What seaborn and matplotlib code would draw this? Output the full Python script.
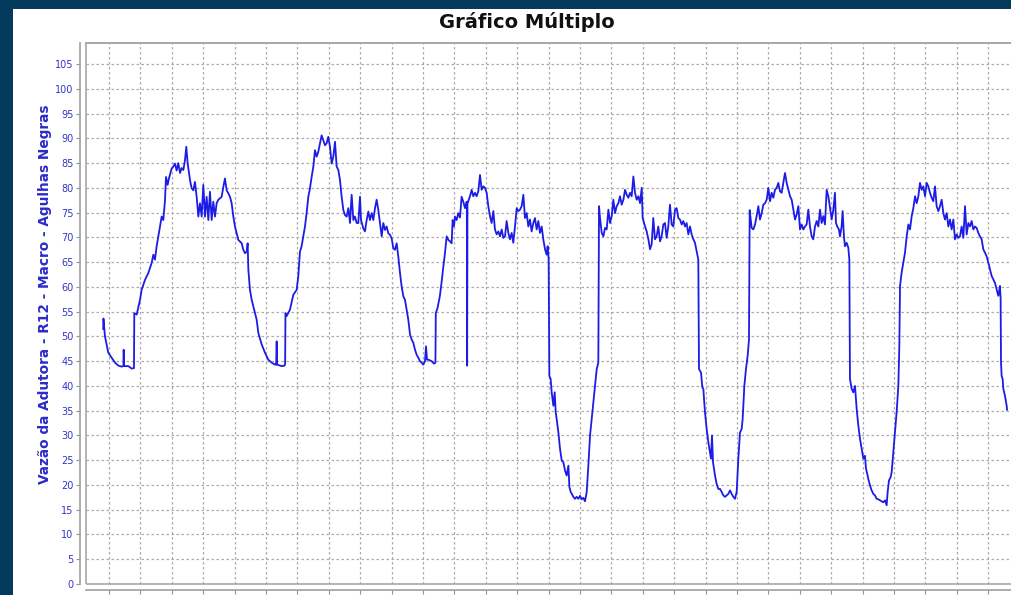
import numpy as np
import pandas as pd
import matplotlib
matplotlib.use("Agg")
import matplotlib.pyplot as plt
from matplotlib.patches import Rectangle
import seaborn as sns

# ---------------- data (hours since start, flow) ----------------
hours_1 = [-0.92, -0.88, -0.64, -0.11, 0.42, 0.96, 1.49, 2.02, 2.30, 2.34,
           2.40, 3.08, 3.61, 3.98, 4.03, 4.41, 4.94, 5.20, 5.73, 6.26,
           6.79, 7.06, 7.32, 7.59, 7.86, 8.12, 8.39, 8.65, 8.92, 9.08,
           9.34, 9.55, 9.98, 10.24, 10.51, 10.77, 11.04, 11.31, 11.57, 11.84,
           12.10, 12.31, 12.53, 12.90, 13.16, 13.43, 13.69, 13.96, 14.23, 14.49,
           14.76, 15.02, 15.29, 15.55, 15.82, 16.08, 16.35, 16.61, 16.88, 17.14,
           17.41, 17.68, 17.94, 18.21, 18.47, 18.74, 19.00, 19.27, 19.53, 19.80,
           20.06, 20.33, 20.59, 21.13, 21.39, 21.66, 21.92, 22.08, 22.19, 22.45,
           22.72, 23.25, 23.51, 23.78, 24.31, 24.84, 25.37, 25.90, 26.43, 26.62,
           26.70, 26.78, 27.49, 27.95]
flow_1 = [51.5, 53.6, 50.0, 46.7, 45.7, 44.7, 44.1, 43.9, 44.0, 47.3,
          44.0, 44.0, 43.5, 43.6, 54.7, 54.4, 57.4, 59.4, 61.4, 62.8,
          64.8, 66.5, 65.5, 68.2, 70.2, 72.2, 74.2, 73.5, 77.5, 82.2,
          80.6, 81.9, 83.9, 84.3, 84.9, 83.5, 85.0, 83.0, 84.0, 83.6,
          85.6, 88.3, 84.9, 81.6, 79.9, 79.5, 81.2, 78.2, 74.2, 76.9,
          74.2, 80.6, 74.2, 78.2, 73.5, 79.2, 73.5, 77.2, 74.2, 76.9,
          77.6, 77.9, 78.2, 80.2, 81.9, 79.5, 78.9, 78.2, 76.9, 74.2,
          72.2, 70.8, 69.5, 68.8, 67.5, 66.8, 67.1, 68.8, 63.5, 59.4,
          57.4, 54.7, 53.4, 50.7, 48.4, 46.7, 45.3, 44.7, 44.3, 44.3,
          49.0, 44.3, 44.0, 44.1]

hours_2 = [28.05, 28.10, 28.29, 28.82, 29.35, 29.88, 30.14, 30.41, 30.67, 30.94,
           31.21, 31.47, 31.74, 32.00, 32.27, 32.54, 32.80, 33.07, 33.33, 33.60,
           33.86, 34.13, 34.39, 34.66, 34.92, 35.19, 35.46, 35.72, 35.99, 36.25,
           36.52, 36.78, 37.05, 37.32, 37.58, 37.85, 38.11, 38.38, 38.64, 38.91,
           39.17, 39.44, 39.70, 39.97, 40.13, 40.50, 40.76, 41.03, 41.30, 41.56,
           41.83, 42.09, 42.36, 42.62, 42.89, 43.15, 43.42, 43.68, 43.95, 44.21,
           44.48, 44.75, 45.01, 45.28, 45.54, 45.81, 46.07, 46.34, 46.60, 46.87,
           47.13, 47.40, 47.66, 47.93, 48.19, 48.46, 48.73, 48.99, 49.26, 49.52,
           49.79, 50.05, 50.32, 50.48, 50.64, 50.85, 51.38, 51.75, 51.98, 52.04,
           52.31, 52.68, 52.95, 53.24, 53.50, 53.77, 54.03, 54.30, 54.56, 54.72,
           54.93, 55.09, 55.36, 55.62, 55.89, 56.15, 56.42, 56.69, 56.95, 56.98,
           57.03, 57.08]
flow_2 = [44.5, 54.7, 54.1, 55.4, 58.4, 59.4, 62.1, 67.1, 68.2, 70.2,
          72.2, 74.9, 78.2, 79.9, 82.2, 84.3, 87.6, 86.3, 87.3, 89.0,
          90.6, 89.6, 88.6, 89.0, 90.3, 88.3, 84.9, 86.3, 89.3, 84.3,
          83.6, 81.6, 78.2, 75.5, 74.5, 74.2, 75.9, 72.9, 78.6, 73.5,
          74.2, 72.9, 72.9, 78.2, 73.5, 71.8, 71.2, 73.5, 75.2, 73.5,
          74.9, 73.5, 75.9, 77.6, 75.5, 72.9, 70.2, 72.9, 71.5, 72.2,
          70.8, 70.5, 69.8, 67.8, 67.5, 68.8, 66.1, 62.8, 60.1, 58.1,
          57.4, 55.4, 53.4, 50.4, 49.4, 48.7, 47.3, 46.3, 45.7, 45.0,
          44.7, 44.3, 45.0, 48.0, 45.3, 45.3, 45.0, 44.5, 44.7, 54.7,
          55.7, 58.1, 60.8, 64.1, 66.8, 70.2, 69.5, 69.2, 68.8, 73.5,
          72.2, 74.2, 73.5, 74.9, 74.0, 78.2, 77.2, 75.9, 77.2, 77.0,
          44.1, 76.8]

hours_3 = [57.48, 57.75, 58.01, 58.28, 58.54, 58.81, 59.08, 59.34, 59.61, 59.87,
           60.14, 60.40, 60.67, 60.93, 61.20, 61.46, 61.73, 62.00, 62.26, 62.53,
           62.79, 63.06, 63.32, 63.59, 63.85, 64.12, 64.38, 64.65, 64.92, 65.18,
           65.45, 65.71, 65.98, 66.24, 66.51, 66.77, 67.04, 67.30, 67.57, 67.83,
           68.10, 68.37, 68.63, 68.90, 69.16, 69.43, 69.69, 69.85, 70.01, 70.12,
           70.33, 70.49, 70.76, 70.97, 71.13, 71.29, 71.56, 71.82, 72.09, 72.35,
           72.62, 72.88, 73.15, 73.31, 73.52, 73.95, 74.21, 74.47, 74.74, 75.00,
           75.27, 75.53, 75.80, 76.07, 76.33, 76.60, 76.86, 77.13, 77.39, 77.66,
           77.92, 78.03, 78.19, 78.46, 78.72, 78.99, 79.25, 79.52, 79.78, 80.05,
           80.31, 80.58, 80.84, 81.11, 81.37, 81.64, 81.91, 82.17, 82.44, 82.70,
           82.97, 83.23, 83.50, 83.76, 84.03, 84.30, 84.56, 84.83, 84.98, 85.36,
           85.62, 85.89, 86.15]
flow_3 = [78.3, 79.6, 78.3, 79.0, 78.3, 79.3, 82.6, 79.6, 80.3, 80.0,
          79.0, 76.3, 74.3, 72.9, 75.3, 71.6, 70.6, 71.2, 70.2, 71.6,
          69.9, 70.2, 73.3, 70.9, 69.6, 70.9, 68.9, 72.2, 75.9, 75.3,
          75.6, 76.3, 78.6, 73.9, 74.9, 72.2, 73.6, 71.2, 72.9, 73.9,
          71.6, 73.3, 70.9, 72.2, 69.6, 67.6, 66.5, 68.2, 65.5, 42.0,
          41.4, 38.7, 36.0, 38.7, 34.7, 33.3, 30.6, 27.3, 24.9, 24.6,
          22.9, 21.9, 23.9, 19.6, 18.6, 17.6, 17.2, 17.6, 17.2, 17.8,
          17.1, 17.4, 16.7, 18.6, 23.9, 30.0, 33.3, 36.7, 40.0, 43.4,
          44.7, 76.3, 73.9, 70.9, 70.2, 71.9, 71.6, 75.6, 72.9, 74.3,
          77.6, 74.9, 76.3, 76.9, 78.3, 76.6, 77.6, 79.6, 78.6, 78.0,
          79.0, 78.3, 82.3, 79.0, 77.6, 78.3, 76.9, 80.0, 73.9, 72.2,
          71.2, 69.6, 67.6]

hours_4 = [86.41, 86.67, 86.94, 87.20, 87.47, 87.74, 88.00, 88.27, 88.53, 88.80,
           89.06, 89.33, 89.60, 89.86, 90.13, 90.39, 90.66, 90.92, 91.19, 91.45,
           91.72, 91.98, 92.25, 92.52, 92.78, 93.05, 93.31, 93.58, 93.84, 93.95,
           94.27, 94.48, 94.64, 94.90, 95.17, 95.44, 95.70, 95.86, 96.02, 96.18,
           96.50, 96.76, 97.03, 97.29, 97.56, 97.82, 98.09, 98.35, 98.62, 98.89,
           99.15, 99.42, 99.68, 99.95, 100.21, 100.48, 100.74, 100.90, 101.17, 101.43,
           101.70, 101.91, 102.02, 102.07, 102.34, 102.60, 102.87, 103.13, 103.40, 103.66,
           103.93, 104.19, 104.46, 104.73, 104.99, 105.26, 105.52, 105.79, 106.05, 106.32,
           106.58, 106.85, 107.11, 107.38, 107.64, 107.91, 108.18, 108.44, 108.71, 108.97,
           109.24, 109.50, 109.77, 110.03, 110.30, 110.56, 110.83, 111.09, 111.36, 111.62,
           111.89, 112.15, 112.42, 112.69, 112.95, 113.22, 113.48, 113.75, 114.01, 114.28,
           114.54, 114.81, 115.07, 115.34]
flow_4 = [68.6, 73.9, 69.6, 70.2, 72.2, 69.2, 70.2, 72.6, 72.9, 69.9,
          72.2, 76.6, 72.6, 72.2, 75.6, 75.9, 73.9, 73.6, 72.6, 73.3,
          72.2, 72.9, 70.6, 72.2, 70.6, 69.6, 68.9, 67.2, 65.5, 43.4,
          42.7, 39.7, 39.4, 34.7, 31.3, 28.6, 26.6, 25.3, 30.0, 24.6,
          21.9, 20.2, 19.2, 19.2, 18.6, 17.9, 17.6, 17.9, 18.2, 18.9,
          18.2, 17.6, 17.2, 18.6, 25.3, 30.6, 31.3, 33.3, 40.0, 43.4,
          46.1, 49.4, 75.5, 74.9, 71.9, 71.6, 72.6, 74.3, 76.3, 73.6,
          74.9, 76.6, 76.9, 77.6, 80.0, 77.3, 79.0, 78.0, 79.6, 80.0,
          81.0, 79.3, 79.0, 81.0, 83.0, 81.0, 79.6, 78.3, 77.6, 75.6,
          73.6, 74.6, 76.3, 71.6, 72.6, 71.6, 72.2, 72.6, 75.6, 72.2,
          70.2, 69.6, 72.2, 73.3, 72.2, 75.6, 72.9, 74.3, 72.6, 79.6,
          78.3, 76.0, 73.6, 75.6]

hours_5 = [115.60, 115.76, 115.97, 116.23, 116.40, 116.66, 116.82, 117.03, 117.19, 117.46,
           117.73, 117.89, 117.99, 118.26, 118.52, 118.79, 119.06, 119.32, 119.59, 119.85,
           120.12, 120.38, 120.54, 120.75, 120.91, 121.18, 121.44, 121.71, 121.97, 122.24,
           122.50, 122.77, 123.04, 123.30, 123.57, 123.83, 123.99, 124.20, 124.47, 124.63,
           124.89, 125.16, 125.42, 125.69, 125.85, 125.96, 126.22, 126.49, 126.75, 127.02,
           127.29, 127.55, 127.82, 128.08, 128.35, 128.61, 128.88, 129.14, 129.41, 129.67,
           129.94, 130.20, 130.47, 130.73, 131.00, 131.26, 131.53, 131.79, 132.06, 132.33,
           132.59, 132.86, 133.12, 133.39, 133.65, 133.92, 134.18, 134.45, 134.71, 134.98,
           135.24, 135.51, 135.77, 136.04, 136.31, 136.57, 136.84, 137.10, 137.37, 137.63,
           137.90, 138.16, 138.43, 138.69, 138.96, 139.22, 139.49, 139.75, 140.02, 140.29,
           140.55, 140.82, 141.08, 141.35, 141.61, 141.88, 141.98, 142.04, 142.14, 142.30,
           142.41, 142.67, 142.94, 143.00]
flow_5 = [79.0, 72.9, 72.2, 71.6, 70.2, 72.2, 75.3, 70.2, 68.2, 68.9,
          67.9, 65.5, 41.4, 39.4, 38.7, 40.0, 35.3, 32.0, 29.3, 27.3,
          25.3, 25.9, 23.3, 22.2, 21.2, 19.9, 18.9, 18.2, 17.9, 17.2,
          17.1, 16.9, 16.7, 16.5, 16.9, 15.9, 18.6, 20.9, 21.6, 22.6,
          26.6, 30.6, 34.7, 40.0, 48.1, 60.2, 62.9, 64.9, 66.9, 70.2,
          72.6, 71.6, 74.3, 75.9, 78.3, 76.9, 78.3, 81.0, 79.6, 80.3,
          78.3, 81.0, 80.3, 79.0, 78.0, 77.3, 80.3, 76.3, 75.3, 76.3,
          77.6, 74.9, 73.6, 74.9, 72.2, 73.6, 71.6, 73.6, 69.6, 70.6,
          69.9, 70.2, 72.2, 69.9, 76.3, 70.6, 72.9, 72.2, 73.3, 71.6,
          72.2, 71.9, 70.9, 70.2, 69.6, 67.6, 66.9, 66.2, 64.9, 63.5,
          62.2, 61.5, 60.8, 59.5, 58.2, 60.2, 57.5, 44.7, 42.0, 41.4,
          39.4, 38.0, 36.0, 35.2]

y_ticks = list(range(0, 110, 5))
title = "Gráfico Múltiplo"
y_label = "Vazão da Adutora - R12 - Macro - Agulhas Negras"

# ---------------- assemble ----------------
hours = hours_1 + hours_2 + hours_3 + hours_4 + hours_5
flow = flow_1 + flow_2 + flow_3 + flow_4 + flow_5
assert len(hours) == len(flow)
df = pd.DataFrame({"hora": hours, "vazao": flow})

# ---------------- figure ----------------
W, H = 1012, 595
fig = plt.figure(figsize=(W / 100, H / 100), dpi=100)
fig.patch.set_facecolor("#033a5d")
panel = Rectangle((13 / W, 0), 1 - 13 / W, 1 - 9 / H,
                  transform=fig.transFigure, facecolor="white",
                  edgecolor="none", zorder=-10)
fig.patches.append(panel)

ax = fig.add_axes([86 / W, 11 / H, 1 - 86 / W + 0.01, (584 - 43) / H])
ax.set_zorder(1)
ax.set_facecolor("white")

sns.lineplot(data=df, x="hora", y="vazao", ax=ax, color="#1c1ce6",
             linewidth=1.3, estimator=None, sort=False)

ax.set_xlim(-3.66, 143.79 + 0.01 * W / 6.28)
ax.set_ylim(0, 109.25)
ax.set_yticks(y_ticks)
ax.set_yticklabels([str(v) for v in y_ticks])
ax.set_xticks(np.arange(0, 150, 5))
ax.set_xticklabels([])
ax.set_xlabel("")
ax.set_ylabel("")
ax.grid(True, linestyle=(0, (2, 2)), color="#ababab", linewidth=0.9)
ax.set_axisbelow(True)

for s in ["left", "bottom", "top", "right"]:
    ax.spines[s].set_color("#a0a0a0")
    ax.spines[s].set_linewidth(1.2)
ax.spines["left"].set_position(("outward", 4))
ax.spines["bottom"].set_position(("outward", 4))
ax.tick_params(axis="both", length=3, width=0.8, color="#909090", pad=2,
               labelsize=7, labelcolor="#3535c8")
# inner plot border
ax.add_patch(Rectangle((0, 0), 1, 1, transform=ax.transAxes, fill=False,
                       edgecolor="#a8a8a8", linewidth=1.2, zorder=5, clip_on=False))

fig.text(527 / W, 1 - 22 / H, title, ha="center", va="center",
         fontsize=14, fontweight="bold", color="#111111")
fig.text(45 / W, 1 - 294 / H, y_label, ha="center", va="center", rotation=90,
         fontsize=9.8, fontweight="bold", color="#2b2bc8")

fig.savefig("out.png", dpi=100, facecolor=fig.get_facecolor())
